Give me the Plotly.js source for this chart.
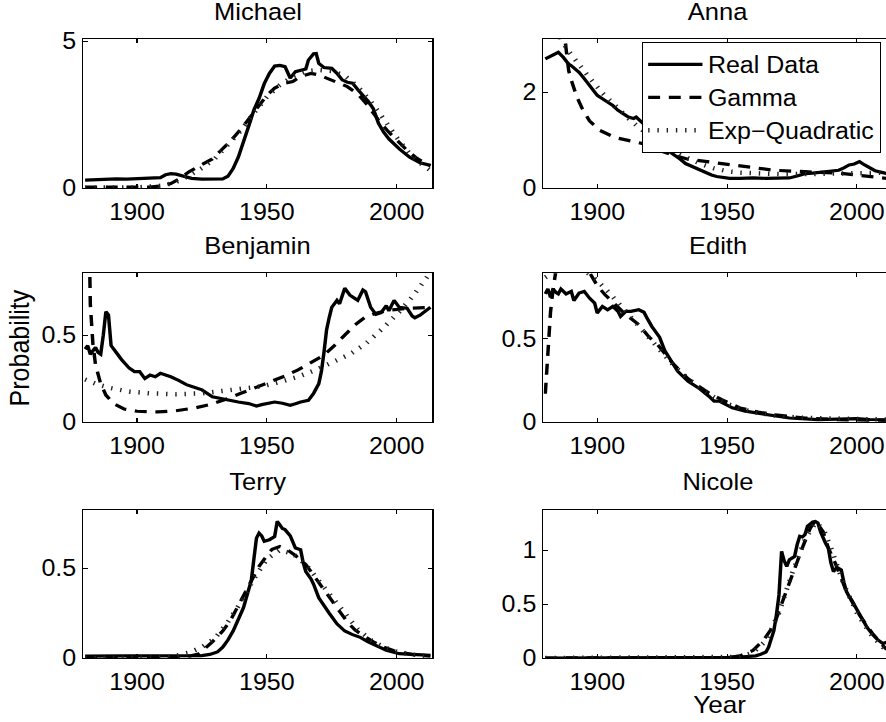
<!DOCTYPE html>
<html><head><meta charset="utf-8">
<script src="https://cdn.plot.ly/plotly-3.0.1.min.js"></script>
<style>
html,body{margin:0;padding:0;background:#fff;overflow:hidden;width:886px;height:722px;}
#wrap{width:886px;height:722px;overflow:hidden;position:relative;}
#chart{width:840px;height:722px;transform:scaleX(1.0866);transform-origin:0 0;}
</style></head><body><div id="wrap"><div id="chart"></div></div>
<script>
// ---- categories / labels ----
const panelNames = ['Michael','Anna','Benjamin','Edith','Terry','Nicole'];
const seriesLabels = ['Real Data','Gamma','Exp\u2212Quadratic'];
const xTickVals = [1900,1950,2000];
const xRange = [1879.3,2013.8];
const yTickVals = [[0,5],[0,2],[0,0.5],[0,0.5],[0,0.5],[0,0.5,1]];
const yMax = [5.06,3.1,0.856,0.894,0.826,1.375];

// ---- Michael ----
const michaelRealYears = [1880,1884,1888,1892,1896,1900,1905,1909,1911,1913,1915,1918,1921,1925,1929,1933,1935,1937,1939,1941,1943,1945,1947,1949,1951,1953,1955,1957,1959,1961,1963,1965,1966,1968,1969,1970,1972,1975,1977,1979,1981,1983,1985,1987,1989,1991,1993,1995,1997,2001,2005,2009,2013];
const michaelReal = [0.27,0.29,0.30,0.31,0.30,0.31,0.32,0.35,0.45,0.49,0.47,0.40,0.33,0.30,0.30,0.31,0.40,0.66,1.05,1.55,2.10,2.65,3.05,3.55,3.90,4.15,4.17,4.13,3.74,3.96,4.00,4.05,4.35,4.57,4.58,4.24,4.10,4.07,3.90,3.68,3.60,3.57,3.35,3.15,2.95,2.70,2.20,1.90,1.67,1.33,1.05,0.86,0.77];
const michaelGammaYears = [1880,1905,1910,1913,1916,1920,1925,1929,1932,1936,1940,1943,1947,1950,1953,1957,1960,1963,1967,1970,1973,1977,1981,1985,1988,1991,1994,1997,2000,2004,2008,2011,2013];
const michaelGamma = [0.03,0.03,0.08,0.15,0.30,0.55,0.80,0.99,1.25,1.60,2.00,2.35,2.84,3.15,3.40,3.57,3.62,3.80,3.90,3.85,3.74,3.60,3.45,3.20,2.90,2.55,2.20,1.90,1.62,1.28,1.00,0.85,0.75];
const michaelExpqYears = [1880,1900,1910,1915,1920,1925,1930,1935,1940,1945,1950,1955,1960,1965,1970,1975,1980,1985,1990,1995,2000,2005,2010,2013];
const michaelExpq = [0.01,0.02,0.08,0.20,0.42,0.68,1.00,1.45,1.95,2.55,3.10,3.50,3.80,3.97,4.02,3.98,3.82,3.45,2.95,2.35,1.72,1.17,0.78,0.60];

// ---- Anna ----
const annaRealYears = [1880,1881,1883,1885,1887,1889,1890,1892,1893,1895,1897,1900,1902,1904,1906,1908,1910,1912,1914,1915,1917,1919,1921,1922,1924,1926,1928,1930,1932,1934,1936,1938,1940,1942,1944,1946,1948,1951,1955,1960,1965,1970,1974,1977,1980,1983,1987,1990,1993,1995,1997,1999,2001,2003,2005,2007,2010,2013];
const annaReal = [2.69,2.72,2.78,2.83,2.72,2.58,2.55,2.45,2.41,2.28,2.14,1.93,1.86,1.79,1.72,1.62,1.55,1.48,1.45,1.48,1.38,1.28,1.15,1.03,0.95,0.82,0.75,0.68,0.60,0.51,0.46,0.41,0.36,0.31,0.27,0.24,0.22,0.20,0.20,0.21,0.20,0.20,0.21,0.25,0.30,0.31,0.34,0.35,0.37,0.42,0.48,0.50,0.55,0.48,0.42,0.36,0.32,0.28];
const annaGammaYears = [1886,1887,1888,1889,1890,1892,1894,1897,1901,1904,1907,1913,1918,1923,1929,1935,1942,1950,1957,1968,1980,1993,2000,2006,2013];
const annaGamma = [3.8,3.3,2.8,2.45,2.25,1.92,1.68,1.40,1.20,1.12,1.05,0.98,0.92,0.80,0.69,0.60,0.55,0.50,0.44,0.37,0.34,0.31,0.27,0.23,0.19];
const annaExpqYears = [1885,1886,1889,1892,1897,1902,1907,1912,1917,1922,1927,1932,1937,1941,1945,1950,1955,1962,1970,1980,1990,2000,2013];
const annaExpq = [3.3,3.1,2.85,2.63,2.30,1.98,1.70,1.45,1.22,1.02,0.84,0.69,0.57,0.48,0.41,0.35,0.32,0.30,0.29,0.29,0.30,0.31,0.32];

// ---- Benjamin ----
const benjaminRealYears = [1880,1881,1882,1884,1885,1886,1887,1888,1889,1890,1892,1894,1897,1899,1901,1903,1905,1907,1909,1911,1913,1916,1919,1922,1925,1929,1932,1935,1939,1943,1946,1948,1950,1953,1956,1959,1961,1963,1966,1968,1970,1971,1972,1973,1974,1975,1977,1978,1980,1982,1984,1985,1987,1988,1990,1992,1994,1996,1997,1999,2001,2004,2006,2007,2009,2011,2013];
const benjaminReal = [0.42,0.44,0.39,0.43,0.40,0.39,0.50,0.635,0.615,0.44,0.40,0.36,0.31,0.29,0.29,0.25,0.27,0.26,0.28,0.27,0.26,0.24,0.215,0.20,0.185,0.145,0.135,0.125,0.115,0.106,0.092,0.10,0.106,0.115,0.108,0.096,0.105,0.115,0.125,0.165,0.22,0.29,0.40,0.53,0.60,0.66,0.70,0.68,0.77,0.73,0.71,0.70,0.76,0.75,0.66,0.62,0.63,0.67,0.64,0.70,0.66,0.655,0.61,0.60,0.615,0.635,0.66];
const benjaminGammaYears = [1881,1882,1883,1884,1886,1888,1891,1895,1900,1908,1915,1922,1928,1934,1940,1946,1952,1957,1962,1967,1972,1976,1980,1984,1988,1993,1998,2005,2013];
const benjaminGamma = [1.6,0.68,0.45,0.33,0.22,0.155,0.105,0.075,0.062,0.058,0.065,0.08,0.10,0.13,0.165,0.20,0.235,0.265,0.30,0.34,0.385,0.44,0.50,0.56,0.605,0.63,0.645,0.655,0.66];
const benjaminExpqYears = [1880,1885,1890,1897,1905,1915,1925,1931,1940,1948,1955,1962,1968,1975,1982,1988,1994,2001,2006,2010,2013];
const benjaminExpq = [0.245,0.215,0.195,0.175,0.165,0.16,0.165,0.175,0.19,0.205,0.23,0.26,0.295,0.34,0.39,0.45,0.53,0.635,0.72,0.80,0.86];

// ---- Edith ----
const edithRealYears = [1880,1881,1882,1883,1884,1885,1886,1888,1890,1891,1893,1895,1897,1899,1900,1902,1904,1906,1908,1909,1911,1913,1916,1918,1919,1921,1924,1926,1929,1931,1935,1939,1943,1945,1947,1950,1952,1957,1965,1974,1985,1995,2000,2005,2013];
const edithReal = [0.77,0.80,0.75,0.80,0.78,0.77,0.80,0.77,0.785,0.73,0.775,0.785,0.745,0.715,0.655,0.695,0.675,0.695,0.665,0.635,0.665,0.665,0.675,0.66,0.63,0.575,0.51,0.43,0.355,0.305,0.245,0.205,0.155,0.125,0.125,0.10,0.085,0.065,0.044,0.024,0.014,0.016,0.02,0.015,0.013];
const edithGammaYears = [1880,1881,1882,1883,1884,1886,1890,1894,1897,1900,1903,1906,1910,1916,1920,1923,1929,1935,1942,1948,1955,1962,1968,1980,1993,2013];
const edithGamma = [0.17,0.45,0.66,0.80,0.90,0.97,1.00,0.96,0.90,0.82,0.765,0.72,0.66,0.585,0.51,0.47,0.354,0.26,0.184,0.134,0.084,0.06,0.044,0.024,0.014,0.01];
const edithExpqYears = [1880,1884,1888,1892,1896,1900,1905,1910,1915,1920,1925,1930,1935,1940,1945,1950,1955,1960,1970,1980,2000,2013];
const edithExpq = [0.87,0.91,0.93,0.92,0.90,0.85,0.77,0.68,0.59,0.50,0.41,0.33,0.26,0.20,0.15,0.11,0.08,0.06,0.035,0.025,0.018,0.015];

// ---- Terry ----
const terryRealYears = [1880,1885,1890,1895,1900,1905,1910,1915,1920,1925,1928,1931,1933,1935,1937,1939,1941,1942,1944,1945,1946,1947,1948,1949,1951,1953,1954,1955,1956,1957,1959,1961,1963,1964,1965,1967,1968,1970,1972,1974,1977,1980,1983,1986,1989,1992,1996,2001,2006,2013];
const terryReal = [0.01,0.012,0.01,0.012,0.012,0.012,0.013,0.012,0.012,0.013,0.02,0.034,0.06,0.10,0.15,0.21,0.28,0.33,0.43,0.55,0.667,0.695,0.68,0.649,0.658,0.676,0.76,0.74,0.72,0.714,0.68,0.612,0.602,0.53,0.48,0.44,0.41,0.335,0.29,0.25,0.19,0.15,0.13,0.115,0.09,0.07,0.043,0.024,0.019,0.015];
const terryGammaYears = [1880,1915,1920,1924,1929,1933,1936,1939,1942,1945,1947,1950,1952,1955,1958,1961,1965,1968,1971,1975,1978,1981,1984,1988,1991,1995,1999,2006,2013];
const terryGamma = [0.0,0.002,0.01,0.024,0.09,0.15,0.21,0.29,0.37,0.45,0.51,0.57,0.605,0.62,0.60,0.57,0.52,0.46,0.40,0.32,0.257,0.20,0.155,0.115,0.09,0.06,0.04,0.019,0.01];
const terryExpqYears = [1880,1910,1915,1920,1925,1930,1935,1940,1945,1950,1955,1960,1965,1970,1975,1980,1985,1990,1995,2000,2005,2013];
const terryExpq = [0.0,0.003,0.012,0.03,0.06,0.11,0.20,0.31,0.44,0.55,0.60,0.58,0.52,0.43,0.33,0.24,0.16,0.10,0.06,0.035,0.02,0.01];

// ---- Nicole ----
const nicoleRealYears = [1880,1900,1920,1940,1950,1955,1957,1961,1963,1965,1966,1967,1968,1969,1970,1971,1972,1973,1974,1975,1976,1977,1978,1979,1980,1981,1982,1983,1984,1985,1986,1987,1988,1989,1990,1991,1992,1993,1994,1995,1996,1997,1998,2000,2002,2004,2006,2008,2010,2012,2013];
const nicoleReal = [0.0,0.0,0.0,0.002,0.005,0.008,0.01,0.02,0.035,0.056,0.10,0.165,0.25,0.397,0.584,0.987,0.90,0.848,0.91,0.925,0.94,1.05,1.127,1.12,1.143,1.22,1.24,1.26,1.265,1.25,1.17,1.111,1.06,1.018,0.88,0.80,0.83,0.83,0.816,0.70,0.615,0.57,0.537,0.45,0.36,0.28,0.22,0.17,0.134,0.15,0.14];
const nicoleGammaYears = [1880,1950,1955,1960,1964,1968,1971,1975,1979,1982,1984,1987,1989,1992,1996,2001,2006,2011,2013];
const nicoleGamma = [0.0,0.003,0.02,0.07,0.164,0.30,0.50,0.77,1.02,1.2,1.27,1.17,1.02,0.86,0.615,0.398,0.227,0.09,0.06];
const nicoleExpqYears = [1880,1950,1955,1960,1965,1970,1975,1980,1984,1987,1990,1995,2000,2005,2010,2013];
const nicoleExpq = [0.0,0.0,0.01,0.05,0.16,0.42,0.78,1.1,1.25,1.2,1.02,0.68,0.42,0.23,0.10,0.05];

const panels = [
  [michaelRealYears, michaelReal, michaelGammaYears, michaelGamma, michaelExpqYears, michaelExpq],
  [annaRealYears, annaReal, annaGammaYears, annaGamma, annaExpqYears, annaExpq],
  [benjaminRealYears, benjaminReal, benjaminGammaYears, benjaminGamma, benjaminExpqYears, benjaminExpq],
  [edithRealYears, edithReal, edithGammaYears, edithGamma, edithExpqYears, edithExpq],
  [terryRealYears, terryReal, terryGammaYears, terryGamma, terryExpqYears, terryExpq],
  [nicoleRealYears, nicoleReal, nicoleGammaYears, nicoleGamma, nicoleExpqYears, nicoleExpq]
];

// ---- styling / layout ----
const FONT = '"Liberation Sans", Arial, Helvetica, sans-serif';
const W = 840, H = 722;
const colDomains = [[76.66/W, 398.03/W], [500.18/W, 821.55/W]];
const rowPx = [[39.3,188],[273.3,422],[509.5,658]];
const rowDomains = rowPx.map(r => [1 - r[1]/H, 1 - r[0]/H]);
const titleY = [11.6, 245.6, 481.7];

const lineStyles = [
  {color:'#000', width:3.2},
  {color:'#000', width:3.2, dash:'11px,8px'},
  {color:'#222', width:4.5, dash:'1.3px,7.2px'}
];

const traces = [];
const layout = {
  width: W, height: H,
  margin:{l:0,r:0,t:0,b:0,pad:0,autoexpand:false},
  paper_bgcolor:'#fff', plot_bgcolor:'#fff',
  font:{family:FONT, color:'#000'},
  showlegend:true,
  legend:{x:590.5/W, y:1-42/H, xanchor:'left', yanchor:'top', bgcolor:'#fff',
          bordercolor:'#000', borderwidth:1, font:{size:23, family:FONT, color:'#000'},
          itemwidth:50, tracegroupgap:0},
  annotations:[]
};

panels.forEach((p, i) => {
  const n = i + 1;
  const xa = 'x' + (n === 1 ? '' : n), ya = 'y' + (n === 1 ? '' : n);
  for (let s = 0; s < 3; s++) {
    traces.push({
      type:'scatter', mode:'lines', x:p[2*s], y:p[2*s+1],
      xaxis:xa, yaxis:ya, name:seriesLabels[s],
      showlegend: i === 1, line: lineStyles[s], hoverinfo:'skip'
    });
  }
  const col = i % 2, row = Math.floor(i / 2);
  const axCommon = {
    showline:true, linecolor:'#000', linewidth:1, mirror:'ticks',
    ticks:'inside', ticklen:4, tickwidth:1, tickcolor:'#000',
    showgrid:false, zeroline:false, fixedrange:true,
    tickfont:{size:23, family:FONT, color:'#000'}
  };
  layout['xaxis' + (n === 1 ? '' : n)] = Object.assign({}, axCommon, {
    domain: colDomains[col], anchor: ya, range: xRange,
    tickmode:'array', tickvals:xTickVals, ticklabelstandoff:3
  });
  layout['yaxis' + (n === 1 ? '' : n)] = Object.assign({}, axCommon, {
    domain: rowDomains[row], anchor: xa, range:[0, yMax[i]],
    tickmode:'array', tickvals:yTickVals[i], ticklabelstandoff:1
  });
  layout.annotations.push({
    text: panelNames[i], xref:'paper', yref:'paper',
    x:(colDomains[col][0] + colDomains[col][1]) / 2, y: 1 - titleY[row] / H,
    xanchor:'center', yanchor:'middle', showarrow:false,
    font:{size:23.5, family:FONT, color:'#000'}
  });
});

layout.annotations.push({
  text:'Probability', xref:'paper', yref:'paper', x:17.7/W, y:1 - 347.7/H,
  xanchor:'center', yanchor:'middle', textangle:-90, showarrow:false,
  font:{size:25, family:FONT, color:'#000'}
});
layout.annotations.push({
  text:'Year', xref:'paper', yref:'paper', x:662/W, y:1 - 704.7/H,
  xanchor:'center', yanchor:'middle', showarrow:false,
  font:{size:24, family:FONT, color:'#000'}
});

Plotly.newPlot('chart', traces, layout, {displayModeBar:false, staticPlot:true});
</script></body></html>
